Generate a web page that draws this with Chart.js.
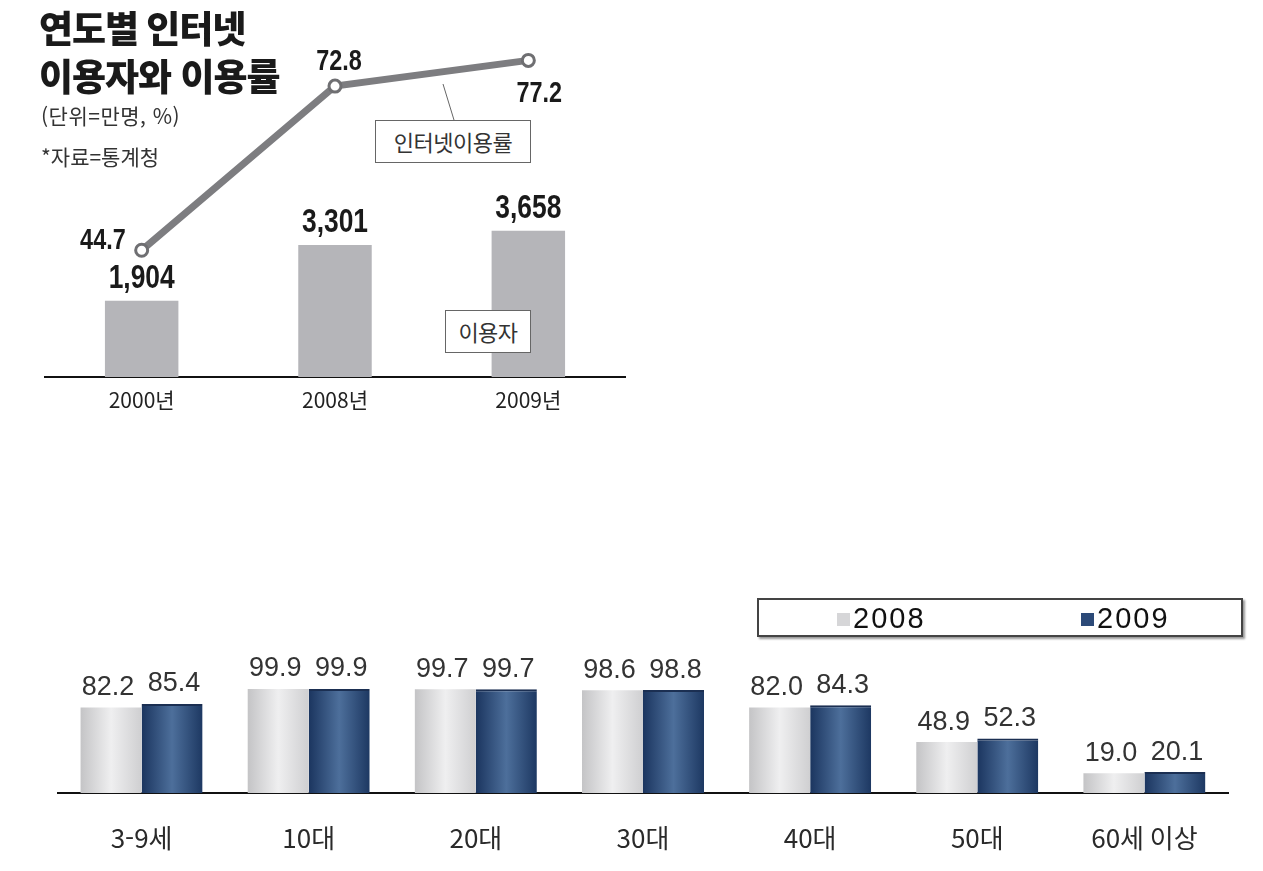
<!DOCTYPE html>
<html lang="ko">
<head>
<meta charset="utf-8">
<title>연도별 인터넷 이용자와 이용률</title>
<script src="https://cdn.jsdelivr.net/npm/chart.js@4.4.1/dist/chart.umd.min.js"></script>
<style>
    body { margin: 0; width: 1263px; height: 871px; background: #fff; position: relative; overflow: hidden;
           font-family: "Noto Sans CJK KR", "Noto Sans", sans-serif; color: #222; }
    canvas { position: absolute; }
    #top-chart { left: 0; top: 0; }
    #age-chart { left: 0; top: 580px; }
    .txt { position: absolute; white-space: nowrap; }
    #title { left: 39px; top: 3px; font-size: 37px; font-weight: 900; line-height: 48px; letter-spacing: -1px; color: #1a1a1a; }
    #title span { margin-left: 8px; }
    #unit { left: 41px; top: 100px; font-size: 21px; color: #333; letter-spacing: 0.5px; }
    #source { left: 41px; top: 141px; font-size: 21px; color: #333; }
    .tag { position: absolute; border: 1px solid #666; background: #fff; font-size: 22px; color: #333;
           letter-spacing: -0.5px; text-align: center; box-sizing: border-box; }
    #rate-tag { left: 375px; top: 120px; width: 156px; height: 43px; line-height: 41px; }
    #user-tag { left: 445px; top: 310px; width: 86px; height: 43px; line-height: 41px; }
    #leader { position: absolute; left: 0; top: 0; }
    #legend { position: absolute; left: 757px; top: 598px; width: 486px; height: 39px; box-sizing: border-box;
              border: 2px solid #444; box-shadow: 2px 2px 2px #999; background: #fff; }
    .lg { position: absolute; top: 2px; font-family: "Liberation Sans", Arial, sans-serif; font-size: 29px;
          letter-spacing: 2px; color: #111; line-height: 32px; }
    .sw { display: inline-block; width: 13px; height: 13px; margin-right: 3px; vertical-align: 2px; }
</style>
</head>
<body>
<canvas id="top-chart" width="640" height="420"></canvas>
<canvas id="age-chart" width="1263" height="291"></canvas>

<svg id="leader" width="640" height="200"><line x1="443" y1="84" x2="454" y2="120" stroke="#666" stroke-width="1"/></svg>
<div class="txt" id="title">연도별<span>인터넷</span><br>이용자와 이용률</div>
<div class="txt" id="unit">(단위=만명, %)</div>
<div class="txt" id="source">*자료=통계청</div>
<div class="tag" id="rate-tag">인터넷이용률</div>
<div class="tag" id="user-tag">이용자</div>
<div id="legend"></div>

<script>
// top chart: users (만명) and internet usage rate (%) by year
const years = ['2000년', '2008년', '2009년'];
const users = [1904, 3301, 3658];
const rates = [44.7, 72.8, 77.2];

// bottom chart: usage rate by age group
const ageGroups = ['3-9세', '10대', '20대', '30대', '40대', '50대', '60세 이상'];
const seriesNames = ['2008', '2009'];
const rate2008 = [82.2, 99.9, 99.7, 98.6, 82.0, 48.9, 19.0];
const rate2009 = [85.4, 99.9, 99.7, 98.8, 84.3, 52.3, 20.1];

const arial = '"Liberation Sans", Arial, sans-serif';

// label offsets for the rate line (dx, dy, align)
const rateLabelPos = [[-16, -10, 'right'], [4, -24, 'center'], [11, 33, 'center']];

// draws the value above each bar / next to each point; squeeze < 1 makes a condensed look
const valueLabels = {
    id: 'valueLabels',
    afterDatasetsDraw(chart) {
        const ctx = chart.ctx;
        chart.data.datasets.forEach((ds, i) => {
            const lbl = ds.valueLabel;
            if (!lbl) return;
            const meta = chart.getDatasetMeta(i);
            meta.data.forEach((el, j) => {
                const pos = lbl.pos ? lbl.pos[j] : [lbl.dx || 0, lbl.dy, 'center'];
                const sq = lbl.squeeze || 1;
                ctx.save();
                ctx.font = lbl.font;
                ctx.fillStyle = lbl.color;
                ctx.textAlign = pos[2];
                ctx.textBaseline = 'middle';
                ctx.translate(el.x + pos[0], el.y + pos[1]);
                ctx.scale(sq, 1);
                ctx.fillText(lbl.format(ds.data[j]), 0, 0);
                ctx.restore();
            });
        });
    }
};

new Chart(document.getElementById('top-chart'), {
    type: 'bar',
    data: {
        labels: years,
        datasets: [{
            type: 'line',
            label: '인터넷이용률',
            data: rates,
            yAxisID: 'y2',
            order: 0,
            borderColor: '#7d7d80',
            borderWidth: 7,
            pointRadius: 6,
            pointBorderWidth: 3,
            pointBackgroundColor: '#fff',
            pointBorderColor: '#6f6f72',
            valueLabel: { font: 'bold 30px ' + arial, color: '#1a1a1a', squeeze: 0.78, pos: rateLabelPos, format: v => v.toFixed(1) }
        }, {
            label: '이용자',
            data: users,
            yAxisID: 'y',
            order: 1,
            backgroundColor: '#b5b5b9',
            barPercentage: 0.76,
            categoryPercentage: 0.5,
            valueLabel: { font: 'bold 33px ' + arial, color: '#1a1a1a', squeeze: 0.8, dy: -22, format: v => v.toLocaleString('en-US') }
        }]
    },
    options: {
        responsive: false,
        animation: false,
        layout: { padding: { left: 45, right: 15, top: 0, bottom: 0 } },
        plugins: { legend: { display: false }, tooltip: { enabled: false } },
        scales: {
            x: {
                grid: { display: false, drawTicks: false },
                border: { color: '#111', width: 2 },
                ticks: { font: { family: '"Noto Sans CJK KR", ' + arial, size: 21 }, color: '#222', padding: 10 },
                afterFit: s => { s.height = 43; }
            },
            y: { display: false, min: 0, max: 9200 },
            y2: { display: false, min: 23, max: 86 }
        }
    },
    plugins: [valueLabels]
});

// horizontal gradient per bar so each bar looks like a cylinder
const catPct = 0.73;
function barGradient(stops, side) {
    return ctx => {
        const chart = ctx.chart;
        const xs = chart.scales && chart.scales.x;
        if (!xs || !xs.width || ctx.type !== 'data') return stops[1];
        const center = xs.getPixelForValue(ctx.dataIndex);
        const w = xs.width / ageGroups.length * catPct / 2;
        const left = side === 0 ? center - w : center;
        const g = chart.ctx.createLinearGradient(left, 0, left + w, 0);
        g.addColorStop(0, stops[0]);
        g.addColorStop(0.5, stops[1]);
        g.addColorStop(1, stops[2]);
        return g;
    };
}

new Chart(document.getElementById('age-chart'), {
    type: 'bar',
    data: {
        labels: ageGroups,
        datasets: [{
            label: seriesNames[0],
            data: rate2008,
            backgroundColor: barGradient(['#c4c4c6', '#efeff0', '#cfcfd1'], 0),
            categoryPercentage: catPct,
            barPercentage: 1,
            valueLabel: { font: '27px ' + arial, color: '#333', dx: -3, dy: -20, format: v => v.toFixed(1) }
        }, {
            label: seriesNames[1],
            data: rate2009,
            backgroundColor: barGradient(['#1b355f', '#4d6f9b', '#1d3862'], 1),
            borderColor: '#1b2f52',
            borderWidth: { top: 2, left: 0, right: 0, bottom: 0 },
            categoryPercentage: catPct,
            barPercentage: 1,
            valueLabel: { font: '27px ' + arial, color: '#333', dx: 2, dy: -20, format: v => v.toFixed(1) }
        }]
    },
    options: {
        responsive: false,
        animation: false,
        layout: { padding: { left: 58, right: 35, top: 88, bottom: 0 } },
        plugins: { legend: { display: false }, tooltip: { enabled: false } },
        scales: {
            x: {
                grid: { display: false, drawTicks: false },
                border: { color: '#111', width: 2 },
                ticks: { font: { family: '"Noto Sans CJK KR", ' + arial, size: 26 }, color: '#2a2a2a', padding: 30 },
                afterFit: s => { s.height = 78; }
            },
            y: { display: false, min: 0, max: 120 }
        }
    },
    plugins: [valueLabels]
});

// legend box
const legend = document.getElementById('legend');
const swatches = ['#d6d6d8', '#2c4a78'];
const legendX = [78, 322];
seriesNames.forEach((name, i) => {
    const item = document.createElement('div');
    item.className = 'lg';
    item.style.left = legendX[i] + 'px';
    item.innerHTML = `<span class="sw" style="background:${swatches[i]}"></span>${name}`;
    legend.appendChild(item);
});
</script>
</body>
</html>
